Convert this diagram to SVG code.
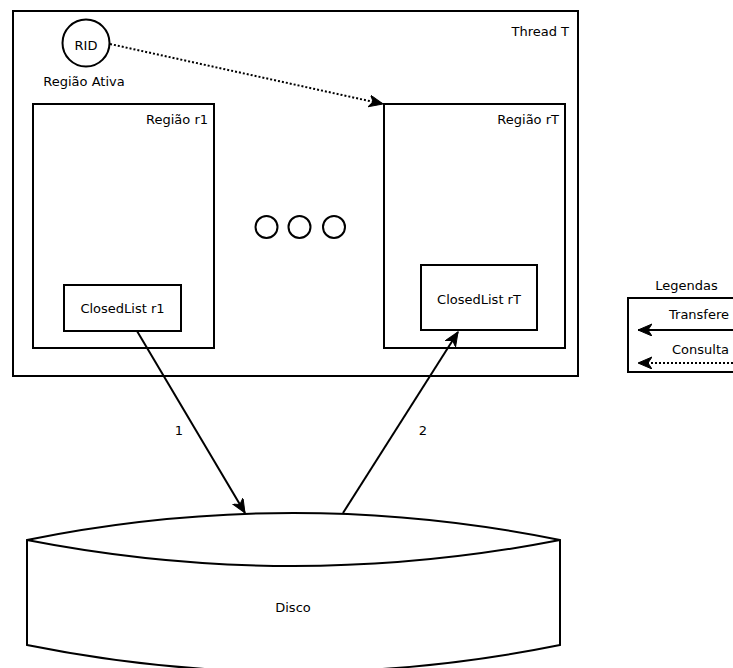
<svg xmlns="http://www.w3.org/2000/svg" width="733" height="668" viewBox="0 0 733 668">
  <style>
    .box { fill: #ffffff; stroke: #000000; stroke-width: 2; }
    .ring { fill: none; stroke: #000000; stroke-width: 2; }
    .txt { font-family: "DejaVu Sans", Verdana, sans-serif; font-size: 13px; fill: #000000; }
    .mid { text-anchor: middle; }
    .end { text-anchor: end; }
    .solid { fill: none; stroke: #000000; stroke-width: 2; marker-end: url(#arrow); }
    .dotted { fill: none; stroke: #000000; stroke-width: 2; stroke-dasharray: 2 2; marker-end: url(#arrow); }
  </style>
  <defs>
    <marker id="arrow" markerUnits="userSpaceOnUse" markerWidth="16" markerHeight="14" refX="14" refY="6" orient="auto" viewBox="0 0 16 14">
      <path d="M14,6 L0,0 L4,6 L0,12 Z" fill="#000000" stroke="#000000" stroke-width="1" stroke-linejoin="miter"/>
    </marker>
  </defs>
  <rect width="733" height="668" fill="#ffffff"/>

  <g id="thread-t">
    <rect class="box" x="13" y="11" width="565" height="365"/>
    <text class="txt end" x="569" y="36">Thread T</text>
  </g>

  <g id="rid">
    <circle class="ring" cx="86" cy="43" r="23.5"/>
    <text class="txt mid" x="86" y="50">RID</text>
    <text class="txt mid" x="84" y="86">Região Ativa</text>
  </g>

  <g id="regiao-r1">
    <rect class="box" x="33" y="104" width="181" height="244"/>
    <text class="txt end" x="208" y="124">Região r1</text>
  </g>

  <g id="regiao-rt">
    <rect class="box" x="384" y="104" width="181" height="244"/>
    <text class="txt end" x="559" y="124">Região rT</text>
  </g>

  <g id="closedlist-r1">
    <rect class="box" x="64" y="285" width="117" height="46"/>
    <text class="txt mid" x="122.5" y="313">ClosedList r1</text>
  </g>

  <g id="closedlist-rt">
    <rect class="box" x="421" y="265" width="116" height="65"/>
    <text class="txt mid" x="479" y="304">ClosedList rT</text>
  </g>

  <g id="ellipsis">
    <circle class="ring" cx="266.5" cy="227" r="11"/>
    <circle class="ring" cx="299.5" cy="227" r="11"/>
    <circle class="ring" cx="334" cy="227" r="11"/>
  </g>

  <g id="disco">
    <path class="box" d="M27,540 Q293.5,486 560,540 L560,645 Q293.5,699 27,645 Z"/>
    <path class="ring" d="M27,540 Q293.5,592 560,540"/>
    <text class="txt mid" x="293" y="612">Disco</text>
  </g>

  <g id="legendas">
    <text class="txt mid" x="686.5" y="290">Legendas</text>
    <rect class="box" x="628" y="298" width="150" height="74"/>
    <text class="txt" x="669" y="319">Transfere</text>
    <text class="txt" x="672" y="354">Consulta</text>
    <path class="solid" d="M745,330 L638,330"/>
    <path class="dotted" d="M745,363 L638,363"/>
  </g>

  <g id="connectors">
    <path class="dotted" d="M110,44 L383,104"/>
    <path class="solid" d="M137,331 L245,513"/>
    <path class="solid" d="M343,513 L458,332"/>
    <text class="txt mid" x="179" y="435">1</text>
    <text class="txt mid" x="423" y="435">2</text>
  </g>
</svg>
